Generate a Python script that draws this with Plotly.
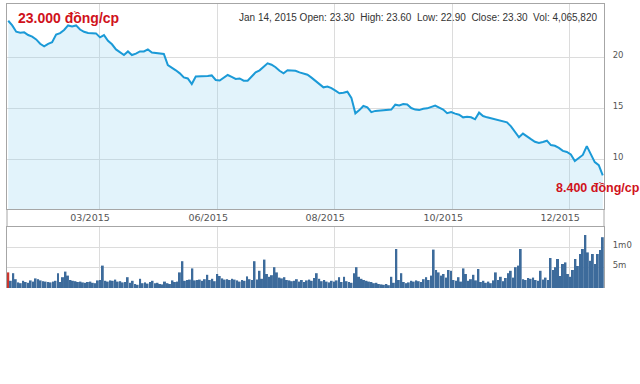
import numpy as np
import plotly.graph_objects as go

# Closing price (thousand VND), read left to right across the year
price = [23.56, 23.1, 22.48, 22.38, 22.42, 22.16, 22.0, 21.73, 21.3, 21.05,
         21.3, 21.45, 22.2, 22.35, 22.65, 23.1, 23.0, 23.1, 22.7, 22.48,
         22.35, 22.32, 22.32, 21.93, 22.15, 21.6, 21.25, 20.75, 20.5, 20.2,
         20.55, 20.2, 20.33, 20.55, 20.55, 20.75, 20.45, 20.4, 20.36, 20.3,
         19.22, 19.0, 18.7, 18.4, 18.0, 17.9, 17.35, 18.1, 18.1, 18.14,
         18.15, 18.2, 17.75, 17.7, 17.95, 18.24, 18.05, 17.85, 17.9, 17.68,
         17.68, 18.1, 18.5, 18.7, 19.0, 19.38, 19.25, 19.0, 18.66, 18.4,
         18.7, 18.65, 18.65, 18.5, 18.35, 18.27, 17.98, 17.68, 17.3, 17.03,
         17.1, 16.95, 16.7, 16.45, 16.5, 16.6, 16.0, 14.48, 14.8, 15.2,
         15.07, 14.6, 14.72, 14.77, 14.8, 14.8, 14.85, 15.33, 15.25, 15.39,
         15.35, 15.0, 14.85, 14.8, 14.93, 14.97, 15.13, 15.25, 15.05, 14.85,
         14.5, 14.6, 14.45, 14.35, 14.09, 14.15, 14.1, 13.9, 14.55, 14.22,
         14.09, 14.0, 13.9, 13.8, 13.73, 13.6, 13.2, 12.7, 12.13, 12.5,
         12.2, 11.95, 11.7, 11.57, 11.68, 11.8, 11.37, 11.3, 11.1, 10.8,
         10.7, 10.45, 9.8, 10.1, 10.4, 11.27, 10.55, 9.7, 9.4, 8.4]

# Daily volume (millions of shares), one per trading day
volume = [3.9, 1.8, 3.7, 2.2, 1.4, 1.2, 1.8, 1.5, 1.3, 1.9,
          1.6, 2.4, 2.2, 1.9, 1.7, 1.6, 1.5, 1.4, 1.6, 1.8,
          3.7, 1.5, 2.7, 4.1, 3.1, 2.0, 1.8, 1.7, 1.5, 1.6,
          1.4, 1.3, 1.5, 1.6, 1.3, 1.2, 1.9, 2.0, 5.6, 1.8,
          1.6, 1.9, 1.8, 2.1, 1.6, 1.7, 1.4, 1.5, 2.7, 1.3,
          1.8, 1.0, 0.8, 2.3, 1.2, 1.4, 1.1, 1.5, 1.8, 1.2,
          1.3, 1.0, 0.9, 1.6, 1.2, 1.0, 1.9, 1.5, 1.6, 3.9,
          6.7, 1.8, 2.0, 2.1, 4.9, 1.9, 2.0, 2.1, 1.8, 2.2,
          3.3, 2.0, 2.3, 1.7, 3.5, 3.0, 2.4, 2.1, 2.2, 2.0,
          2.3, 2.1, 1.9, 1.6, 2.0, 1.8, 2.9, 2.2, 2.0, 6.7,
          2.1, 4.3, 2.3, 7.1, 3.5, 2.8, 3.2, 5.2, 3.9, 2.6,
          2.4, 2.7, 2.0, 1.9, 1.7, 1.8, 2.2, 1.6, 2.0, 1.5,
          1.9, 2.1, 1.8, 2.5, 3.7, 2.3, 1.7, 2.0, 1.6, 1.4,
          1.8, 1.6, 1.9, 2.7, 1.5, 2.8, 1.7, 1.5, 1.3, 3.7,
          5.2, 2.8, 2.3, 2.0, 1.8, 1.6, 1.5, 1.2, 1.3, 1.0,
          0.9, 0.8, 1.0, 0.7, 2.8, 1.3, 9.75, 2.0, 3.7, 1.5,
          1.2, 1.4, 1.8, 1.6, 1.9, 1.7, 1.5, 2.2, 2.7, 2.0,
          3.1, 9.6, 4.5, 3.9, 3.1, 3.5, 2.6, 4.5, 4.3, 2.0,
          1.8, 2.7, 1.6, 4.9, 3.5, 1.8, 2.2, 3.3, 1.9, 4.75,
          1.5, 1.8, 1.3, 1.6, 1.2, 1.9, 3.9, 2.0, 2.8, 1.7,
          2.5, 3.7, 4.3, 2.6, 5.2, 5.6, 9.75, 2.2, 2.0, 2.5,
          2.3, 2.6, 2.0, 1.8, 4.3, 2.1, 2.6, 2.0, 7.5, 4.5,
          5.2, 7.25, 3.0, 6.0, 6.4, 3.5, 2.8, 4.5, 7.25, 5.5,
          8.5, 9.75, 13.25, 8.9, 6.8, 8.5, 6.0, 8.5, 9.5, 12.7]

# Month tick labels and the trading-day index where each sits
tick_labels = ["03/2015", "06/2015", "08/2015", "10/2015", "12/2015"]
tick_days = [36.5, 84, 131, 178.5, 225.5]

price_ticks = [10, 15, 20]
vol_ticks = [5, 10]
vol_tick_text = ["5m", "1m0"]

header = ("Jan 14, 2015\u00a0Open: 23.30\u00a0\u00a0High: 23.60\u00a0\u00a0Low: 22.90"
          "\u00a0\u00a0Close: 23.30\u00a0\u00a0Vol: 4,065,820")
first_label = "23.000 đồng/cp"
last_label = "8.400 đồng/cp"

n_days = len(volume)
vol_days = np.arange(n_days)
price_days = np.linspace(0, n_days - 1, len(price))

bar_colors = ["#c9362f"] + ["#3d6b9b"] * (n_days - 1)

GRID = "#dcdcdc"
BORDER = "#a6a6a6"
TICKFONT_X = dict(family="DejaVu Sans", size=9.5, color="#555555")
TICKFONT_Y = dict(family="DejaVu Sans", size=8.5, color="#555555")

fig = go.Figure()
fig.add_trace(go.Scatter(
    x=price_days, y=price, mode="lines",
    line=dict(color="#1b9ad7", width=2),
    fill="tozeroy", fillcolor="rgba(150,212,242,0.28)",
    xaxis="x", yaxis="y", hoverinfo="skip", showlegend=False))
fig.add_trace(go.Bar(
    x=vol_days, y=volume, marker=dict(color=bar_colors, line=dict(width=0)),
    xaxis="x2", yaxis="y2", hoverinfo="skip", showlegend=False))

P_BOT = 0.278
V_TOP = 0.2148

fig.update_layout(
    width=640, height=384,
    margin=dict(l=7, r=36, t=4, b=96),
    paper_bgcolor="white", plot_bgcolor="white",
    bargap=0.2,
    xaxis=dict(domain=[0, 1], anchor="y", range=[-0.5, n_days - 0.5],
               tickmode="array", tickvals=tick_days, ticktext=tick_labels,
               showgrid=True, gridcolor=GRID, zeroline=False,
               showline=True, mirror=True, linecolor=BORDER, linewidth=1,
               ticks="", ticklabelshift=-9, tickfont=TICKFONT_X),
    yaxis=dict(domain=[P_BOT, 1], anchor="x", range=[5.1, 25.2], side="right",
               tickmode="array", tickvals=price_ticks,
               showgrid=True, gridcolor=GRID, zeroline=False,
               showline=True, mirror=True, linecolor=BORDER, linewidth=1,
               ticks="outside", ticklen=6, tickcolor="rgba(0,0,0,0)",
               ticklabelshift=-2, tickfont=TICKFONT_Y),
    xaxis2=dict(domain=[0, 1], anchor="y2", range=[-0.5, n_days - 0.5],
                side="top", tickmode="array", tickvals=tick_days,
                showticklabels=False, showgrid=True, gridcolor=GRID,
                zeroline=False, showline=True, mirror=False,
                linecolor=BORDER, linewidth=1, ticks=""),
    yaxis2=dict(domain=[0, V_TOP], anchor="x2", range=[0, 15.25], side="right",
                tickmode="array", tickvals=vol_ticks, ticktext=vol_tick_text,
                showgrid=True, gridcolor=GRID, zeroline=False,
                showline=True, mirror=True, linecolor=BORDER, linewidth=1,
                ticks="outside", ticklen=6, tickcolor="rgba(0,0,0,0)",
                ticklabelshift=-3, tickfont=TICKFONT_Y),
    shapes=[
        dict(type="line", xref="paper", yref="paper", x0=0, x1=0, y0=V_TOP, y1=P_BOT,
             line=dict(color=BORDER, width=1)),
        dict(type="line", xref="paper", yref="paper", x0=1, x1=1, y0=V_TOP, y1=P_BOT,
             line=dict(color=BORDER, width=1)),
    ],
    annotations=[
        dict(text=header, xref="paper", yref="paper", x=0.9916, y=0.954,
             xanchor="right", yanchor="middle", showarrow=False,
             font=dict(family="Liberation Sans", size=10, color="#333333")),
        dict(text=first_label, xref="paper", yref="paper", x=0.0151, y=0.951,
             xanchor="left", yanchor="middle", showarrow=False,
             font=dict(family="Liberation Sans", size=14, color="#d0121b", weight="bold")),
        dict(text=last_label, xref="paper", yref="paper", x=1.064, y=0.352,
             xanchor="right", yanchor="middle", showarrow=False,
             font=dict(family="Liberation Sans", size=12.5, color="#d0121b", weight="bold")),
    ],
)

fig.write_html("out.html", config={"displayModeBar": False},
               post_script="document.body.style.margin='0px';")
